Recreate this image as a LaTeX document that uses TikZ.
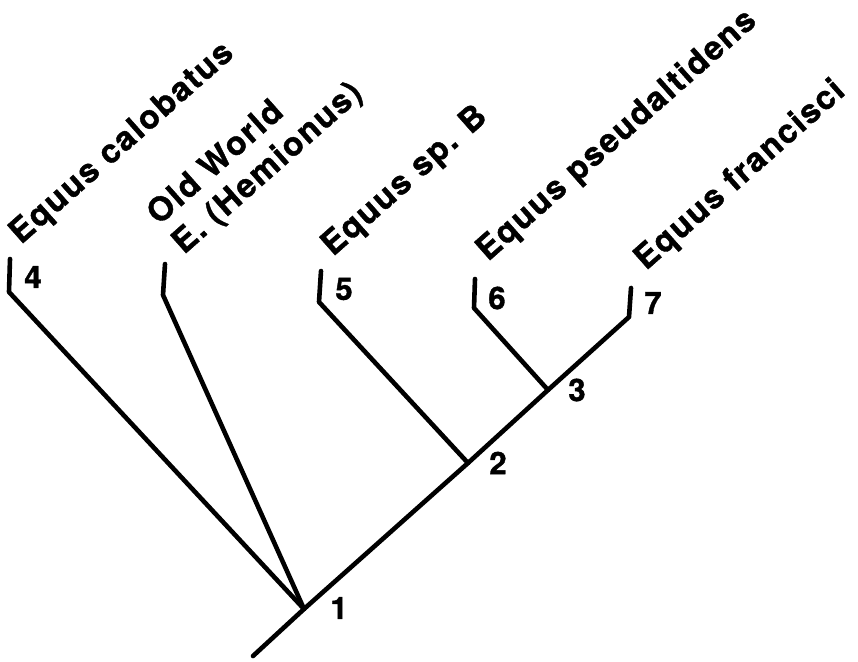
\documentclass[tikz,border=0pt]{standalone}
\usepackage{fontspec}
\newfontfamily\labfont[LetterSpace=5, BoldFeatures={FakeBold=1.2}]{TeX Gyre Heros}
\newfontfamily\numfont[BoldFeatures={FakeBold=1.2}]{TeX Gyre Heros}
\begin{document}
\begin{tikzpicture}[x=1pt,y=-1pt,
  branch/.style={line width=4.6pt, line cap=round, line join=round},
  taxon/.style={font=\labfont\bfseries\fontsize{33}{40}\selectfont, inner sep=0pt, anchor=base west, rotate=41.5},
  num/.style={font=\numfont\bfseries\fontsize{31}{36}\selectfont, inner sep=0pt}]
\useasboundingbox (0,0) rectangle (858,661);
% internal nodes
\coordinate (r) at (253,656);
\coordinate (n1) at (304,609);
\coordinate (n2) at (468,463);
\coordinate (n3) at (548,390);
% leaf bends and tips
\coordinate (b4) at (9,292);   \coordinate (t4) at (10,259);
\coordinate (bo) at (163,295); \coordinate (to) at (165,264);
\coordinate (b5) at (319,302); \coordinate (t5) at (321,271);
\coordinate (b6) at (474,308); \coordinate (t6) at (475,279);
\coordinate (b7) at (629,317); \coordinate (t7) at (631,288);
% branches
\draw[branch] (r) -- (n1) -- (n2) -- (n3) -- (b7) -- (t7);
\draw[branch] (n1) -- (b4) -- (t4);
\draw[branch] (n1) -- (bo) -- (to);
\draw[branch] (n2) -- (b5) -- (t5);
\draw[branch] (n3) -- (b6) -- (t6);
% numbers
\node[num] (l1) at (339,608) {1};
\node[num] (l2) at (498,463) {2};
\node[num] (l3) at (577,390) {3};
\node[num] (l4) at (33,277) {4};
\node[num] (l5) at (344,289) {5};
\node[num] (l6) at (497,298) {6};
\node[num] (l7) at (653,303) {7};
% taxa
\node[taxon] (tx4) at (21,245) {Equus calobatus};
\node[taxon] (txo1) at (159,226) {Old World};
\node[taxon] (txo2) at (184,255) {E. (Hemionus)};
\node[taxon] (tx5) at (333,257) {Equus sp. B};
\node[taxon] (tx6) at (488,262) {Equus pseudaltidens};
\node[taxon] (tx7) at (646,271) {Equus francisci};
\end{tikzpicture}
\end{document}
